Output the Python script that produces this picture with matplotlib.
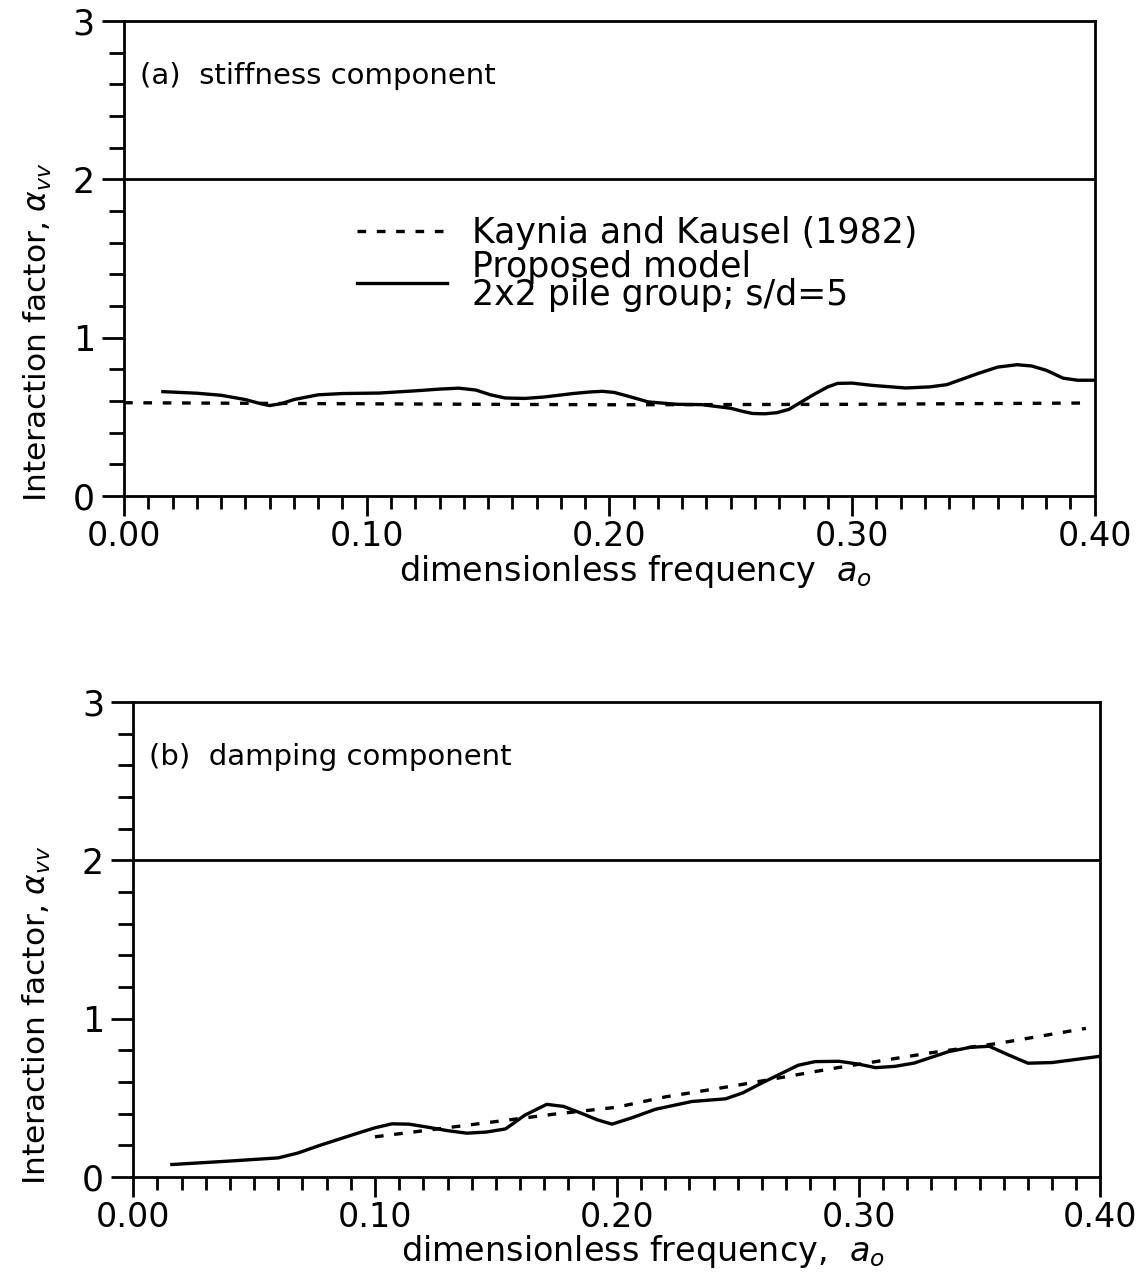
import matplotlib.pyplot as plt
from matplotlib.ticker import MultipleLocator, FormatStrFormatter
from matplotlib.lines import Line2D

# (a) stiffness component - proposed model
a0_stiff = [0.016, 0.030, 0.040, 0.050, 0.056, 0.060, 0.065, 0.070, 0.080, 0.090,
            0.105, 0.120, 0.130, 0.138, 0.145, 0.151, 0.157, 0.165, 0.173, 0.185,
            0.192, 0.197, 0.202, 0.208, 0.216, 0.228, 0.238, 0.250, 0.255, 0.259,
            0.264, 0.269, 0.274, 0.284, 0.290, 0.294, 0.300, 0.308, 0.322, 0.332,
            0.339, 0.352, 0.360, 0.368, 0.374, 0.380, 0.387, 0.393, 0.400]
stiff_model = [0.660, 0.650, 0.637, 0.610, 0.585, 0.572, 0.585, 0.610, 0.640, 0.648,
               0.651, 0.665, 0.676, 0.682, 0.670, 0.640, 0.620, 0.617, 0.626, 0.648,
               0.658, 0.662, 0.655, 0.630, 0.595, 0.580, 0.578, 0.555, 0.535, 0.522,
               0.520, 0.527, 0.548, 0.640, 0.690, 0.712, 0.714, 0.700, 0.683, 0.690,
               0.704, 0.775, 0.815, 0.830, 0.822, 0.795, 0.745, 0.732, 0.732]

# (a) Kaynia and Kausel (1982)
a0_stiff_kk = [0.000, 0.100, 0.200, 0.300, 0.395]
stiff_kk = [0.590, 0.583, 0.577, 0.580, 0.588]

# (b) damping component - proposed model
a0_damp = [0.016, 0.040, 0.060, 0.068, 0.077, 0.091, 0.100, 0.107, 0.114, 0.121,
           0.130, 0.138, 0.146, 0.154, 0.162, 0.171, 0.178, 0.185, 0.192, 0.198,
           0.206, 0.216, 0.231, 0.245, 0.252, 0.260, 0.275, 0.282, 0.292, 0.300,
           0.307, 0.315, 0.323, 0.337, 0.346, 0.354, 0.362, 0.370, 0.380, 0.400]
damp_model = [0.078, 0.100, 0.120, 0.150, 0.198, 0.267, 0.310, 0.335, 0.333, 0.316,
              0.292, 0.276, 0.283, 0.303, 0.390, 0.458, 0.445, 0.404, 0.360, 0.333,
              0.372, 0.427, 0.476, 0.493, 0.530, 0.593, 0.705, 0.728, 0.730, 0.712,
              0.690, 0.698, 0.719, 0.790, 0.818, 0.825, 0.770, 0.718, 0.722, 0.762]

# (b) Kaynia and Kausel (1982)
a0_damp_kk = [0.100, 0.140, 0.174, 0.200, 0.220, 0.250, 0.289, 0.330, 0.358, 0.394]
damp_kk = [0.253, 0.330, 0.396, 0.440, 0.505, 0.579, 0.684, 0.784, 0.844, 0.938]

panel_titles = ['(a)  stiffness component', '(b)  damping component']
xlabels = ['dimensionless frequency  $a_o$', 'dimensionless frequency,  $a_o$']
ylabel = 'Interaction factor, $\\alpha_{vv}$'
legend_labels = ['Kaynia and Kausel (1982)', 'Proposed model\n2x2 pile group; s/d=5']

fig = plt.figure(figsize=(11.38, 12.82), dpi=100)
ax1 = fig.add_axes([0.109, 0.613, 0.853, 0.3705])
ax2 = fig.add_axes([0.117, 0.082, 0.850, 0.3705])

dash = (2.6, 3.2)
panels = [
    (ax1, a0_stiff, stiff_model, a0_stiff_kk, stiff_kk),
    (ax2, a0_damp, damp_model, a0_damp_kk, damp_kk),
]

for i, (ax, x, y, xk, yk) in enumerate(panels):
    ax.plot(x, y, color='black', lw=2.4)
    ax.plot(xk, yk, color='black', lw=2.4, dashes=dash)
    ax.axhline(2, color='black', lw=2)

    ax.set_xlim(0, 0.40)
    ax.set_ylim(0, 3)
    ax.xaxis.set_major_locator(MultipleLocator(0.1))
    ax.xaxis.set_minor_locator(MultipleLocator(0.01))
    ax.xaxis.set_major_formatter(FormatStrFormatter('%.2f'))
    ax.yaxis.set_major_locator(MultipleLocator(1))
    ax.yaxis.set_minor_locator(MultipleLocator(0.2))

    ax.tick_params(axis='x', which='major', direction='out', length=14.5, width=2,
                   labelsize=24, pad=3)
    ax.tick_params(axis='x', which='minor', direction='out', length=9.5, width=2)
    ax.tick_params(axis='y', which='major', direction='out', length=16, width=2,
                   labelsize=25, pad=5)
    ax.tick_params(axis='y', which='minor', direction='out', length=11, width=2)
    for s in ax.spines.values():
        s.set_linewidth(2)

    ax.text(0.016, 0.885, panel_titles[i], transform=ax.transAxes,
            fontsize=21, va='center', ha='left')

    ax.set_xlabel(xlabels[i], fontsize=24)
    ax.xaxis.label.set_va('center')
    ax.set_ylabel(ylabel, fontsize=22.5)
    ax.yaxis.label.set_va('center')

ax1.xaxis.set_label_coords(0.527, -0.158)
ax2.xaxis.set_label_coords(0.527, -0.158)
ax1.yaxis.set_label_coords(-0.089, 0.345)
ax2.yaxis.set_label_coords(-0.099, 0.341)

handles = [Line2D([], [], color='black', lw=2.4, dashes=dash),
           Line2D([], [], color='black', lw=2.4)]
leg = ax1.legend(handles, legend_labels, loc='upper left', bbox_to_anchor=(0.24, 0.59),
                 frameon=False, fontsize=25, handlelength=2.6, handletextpad=0.7,
                 labelspacing=0.0, borderpad=0, borderaxespad=0)
for t in leg.get_texts():
    t.set_linespacing(0.8)

fig.savefig('out.png', dpi=100)
